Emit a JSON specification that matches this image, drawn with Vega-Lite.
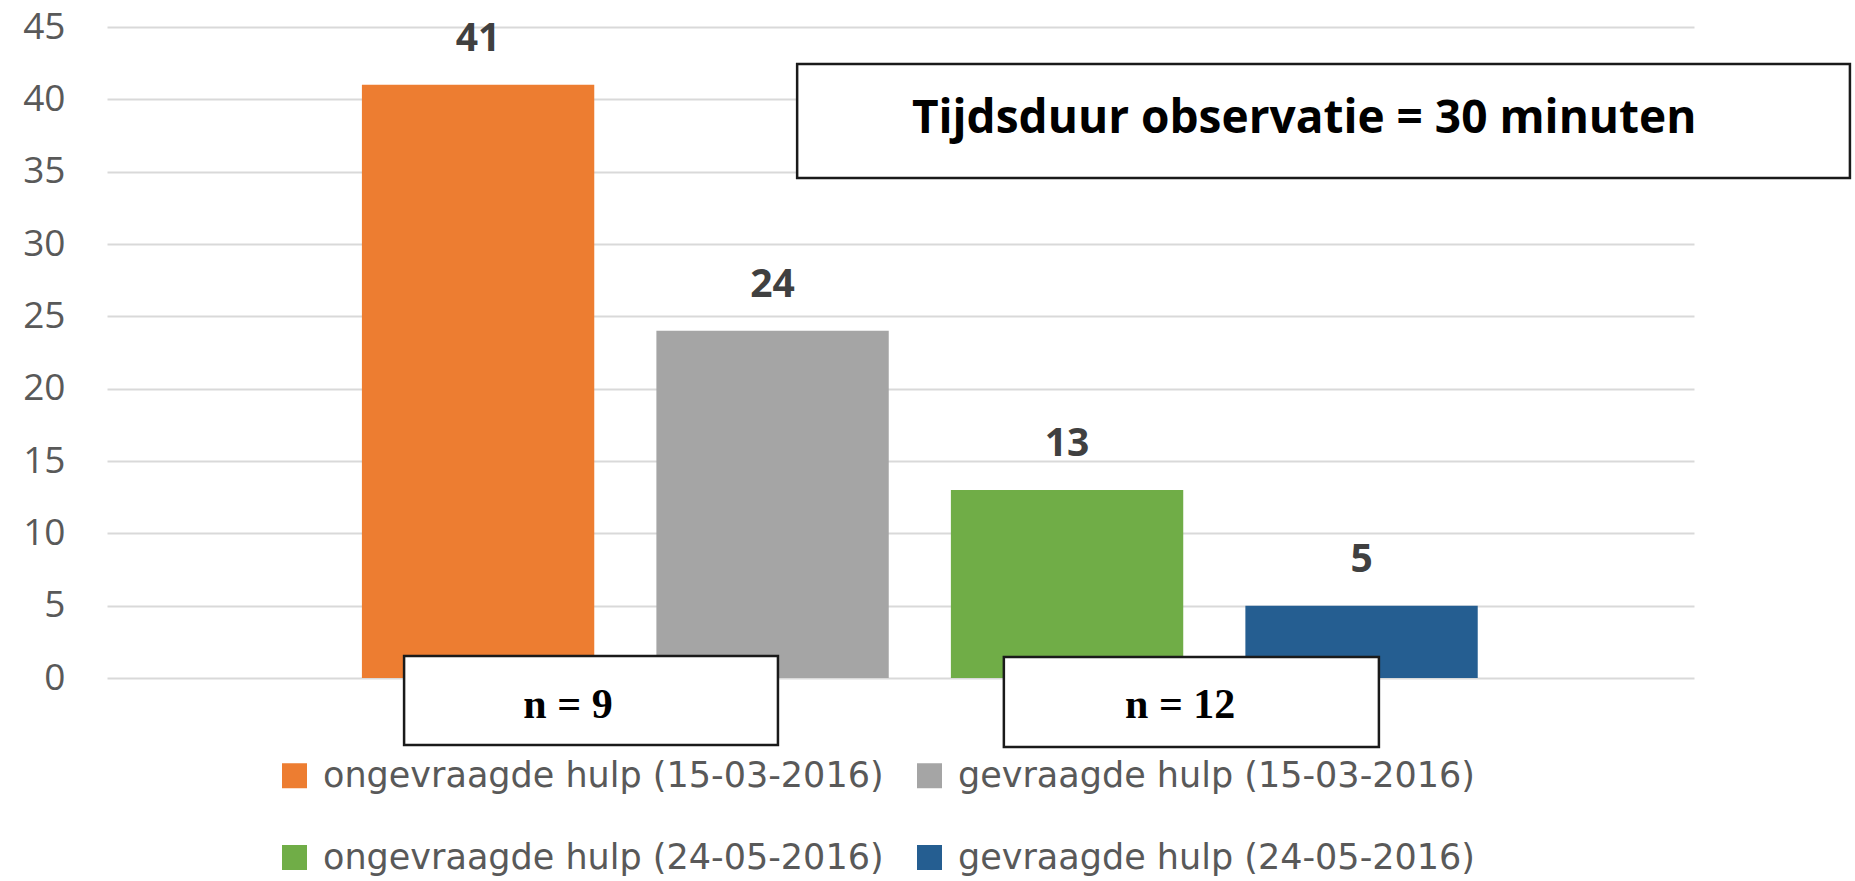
{
  "$schema": "https://vega.github.io/schema/vega-lite/v6.json",
  "width": 1587,
  "height": 651,
  "autosize": "none",
  "padding": {"left": 107, "top": 27, "right": 161, "bottom": 203},
  "background": "white",
  "config": {
    "view": {"stroke": null},
    "font": "Open Sans",
    "axisY": {
      "domain": false,
      "ticks": false,
      "tickSize": 0,
      "labelPadding": 42,
      "labelFont": "Open Sans",
      "labelFontSize": 37,
      "labelColor": "#595959",
      "gridColor": "#D9D9D9",
      "gridWidth": 2
    }
  },
  "datasets": {
    "tellingen": [
      {"serie": "ongevraagde hulp (15-03-2016)", "aantal": 41},
      {"serie": "gevraagde hulp (15-03-2016)", "aantal": 24},
      {"serie": "ongevraagde hulp (24-05-2016)", "aantal": 13},
      {"serie": "gevraagde hulp (24-05-2016)", "aantal": 5}
    ],
    "kaders": [
      {"tekst": "Tijdsduur observatie = 30 minuten", "soort": "titel", "links": 1.079, "rechts": 4.644, "boven": 42.44, "onder": 34.56, "midden": 2.796, "basis": 37.67},
      {"tekst": "n = 9", "soort": "n", "links": -0.252, "rechts": 1.014, "boven": 1.52, "onder": -4.63, "midden": 0.303, "basis": -2.76},
      {"tekst": "n = 12", "soort": "n", "links": 1.779, "rechts": 3.049, "boven": 1.45, "onder": -4.77, "midden": 2.376, "basis": -2.76}
    ]
  },
  "layer": [
    {
      "data": {"name": "tellingen"},
      "encoding": {
        "x": {
          "field": "serie",
          "type": "nominal",
          "sort": null,
          "axis": null,
          "scale": {
            "domain": ["ongevraagde hulp (15-03-2016)", "gevraagde hulp (15-03-2016)", "ongevraagde hulp (24-05-2016)", "gevraagde hulp (24-05-2016)"],
            "paddingInner": 0.211,
            "paddingOuter": 0.8,
            "align": 0.541
          }
        },
        "y": {
          "field": "aantal",
          "type": "quantitative",
          "scale": {"domain": [0, 45], "nice": false},
          "axis": {"title": null, "values": [0, 5, 10, 15, 20, 25, 30, 35, 40, 45]}
        }
      },
      "layer": [
        {
          "mark": {"type": "bar"},
          "encoding": {
            "color": {
              "field": "serie",
              "type": "nominal",
              "scale": {
                "domain": ["ongevraagde hulp (15-03-2016)", "gevraagde hulp (15-03-2016)", "ongevraagde hulp (24-05-2016)", "gevraagde hulp (24-05-2016)"],
                "range": ["#ED7D31", "#A5A5A5", "#70AD47", "#255E91"]
              },
              "legend": {
                "orient": "none",
                "legendX": 170,
                "legendY": 731,
                "columns": 2,
                "direction": "horizontal",
                "title": null,
                "symbolType": "square",
                "symbolSize": 625,
                "symbolStrokeWidth": 0,
                "labelFont": "DejaVu Sans",
                "labelFontSize": 35,
                "labelColor": "#595959",
                "labelOffset": 11,
                "labelLimit": 1000,
                "columnPadding": 28,
                "rowPadding": 46,
                "padding": 0
              }
            }
          }
        },
        {
          "mark": {"type": "text", "baseline": "alphabetic", "align": "center", "dy": -34, "font": "Open Sans", "fontWeight": "bold", "fontSize": 39, "color": "#404040"},
          "encoding": {"text": {"field": "aantal", "type": "quantitative"}}
        }
      ]
    },
    {
      "data": {"name": "kaders"},
      "layer": [
        {
          "mark": {"type": "rect", "fill": "white", "stroke": "#1a1a1a", "strokeWidth": 2.5},
          "encoding": {
            "x": {"field": "links", "type": "quantitative", "axis": null, "scale": {"domain": [-1.258, 4.116], "nice": false, "zero": false}},
            "x2": {"field": "rechts"},
            "y": {"field": "boven", "type": "quantitative", "scale": {"domain": [0, 45], "nice": false}, "axis": {"title": null, "values": [0, 5, 10, 15, 20, 25, 30, 35, 40, 45]}},
            "y2": {"field": "onder"}
          }
        },
        {
          "transform": [{"filter": "datum.soort == 'titel'"}],
          "mark": {"type": "text", "align": "center", "baseline": "alphabetic", "font": "Open Sans", "fontWeight": "bold", "fontSize": 46, "color": "#000000"},
          "encoding": {
            "x": {"field": "midden", "type": "quantitative", "axis": null, "scale": {"domain": [-1.258, 4.116], "nice": false, "zero": false}},
            "y": {"field": "basis", "type": "quantitative", "scale": {"domain": [0, 45], "nice": false}, "axis": {"title": null, "values": [0, 5, 10, 15, 20, 25, 30, 35, 40, 45]}},
            "text": {"field": "tekst", "type": "nominal"}
          }
        },
        {
          "transform": [{"filter": "datum.soort == 'n'"}],
          "mark": {"type": "text", "align": "center", "baseline": "alphabetic", "font": "Liberation Serif", "fontWeight": "bold", "fontSize": 42, "color": "#000000"},
          "encoding": {
            "x": {"field": "midden", "type": "quantitative", "axis": null, "scale": {"domain": [-1.258, 4.116], "nice": false, "zero": false}},
            "y": {"field": "basis", "type": "quantitative", "scale": {"domain": [0, 45], "nice": false}, "axis": {"title": null, "values": [0, 5, 10, 15, 20, 25, 30, 35, 40, 45]}},
            "text": {"field": "tekst", "type": "nominal"}
          }
        }
      ]
    }
  ],
  "resolve": {"scale": {"x": "independent"}}
}
